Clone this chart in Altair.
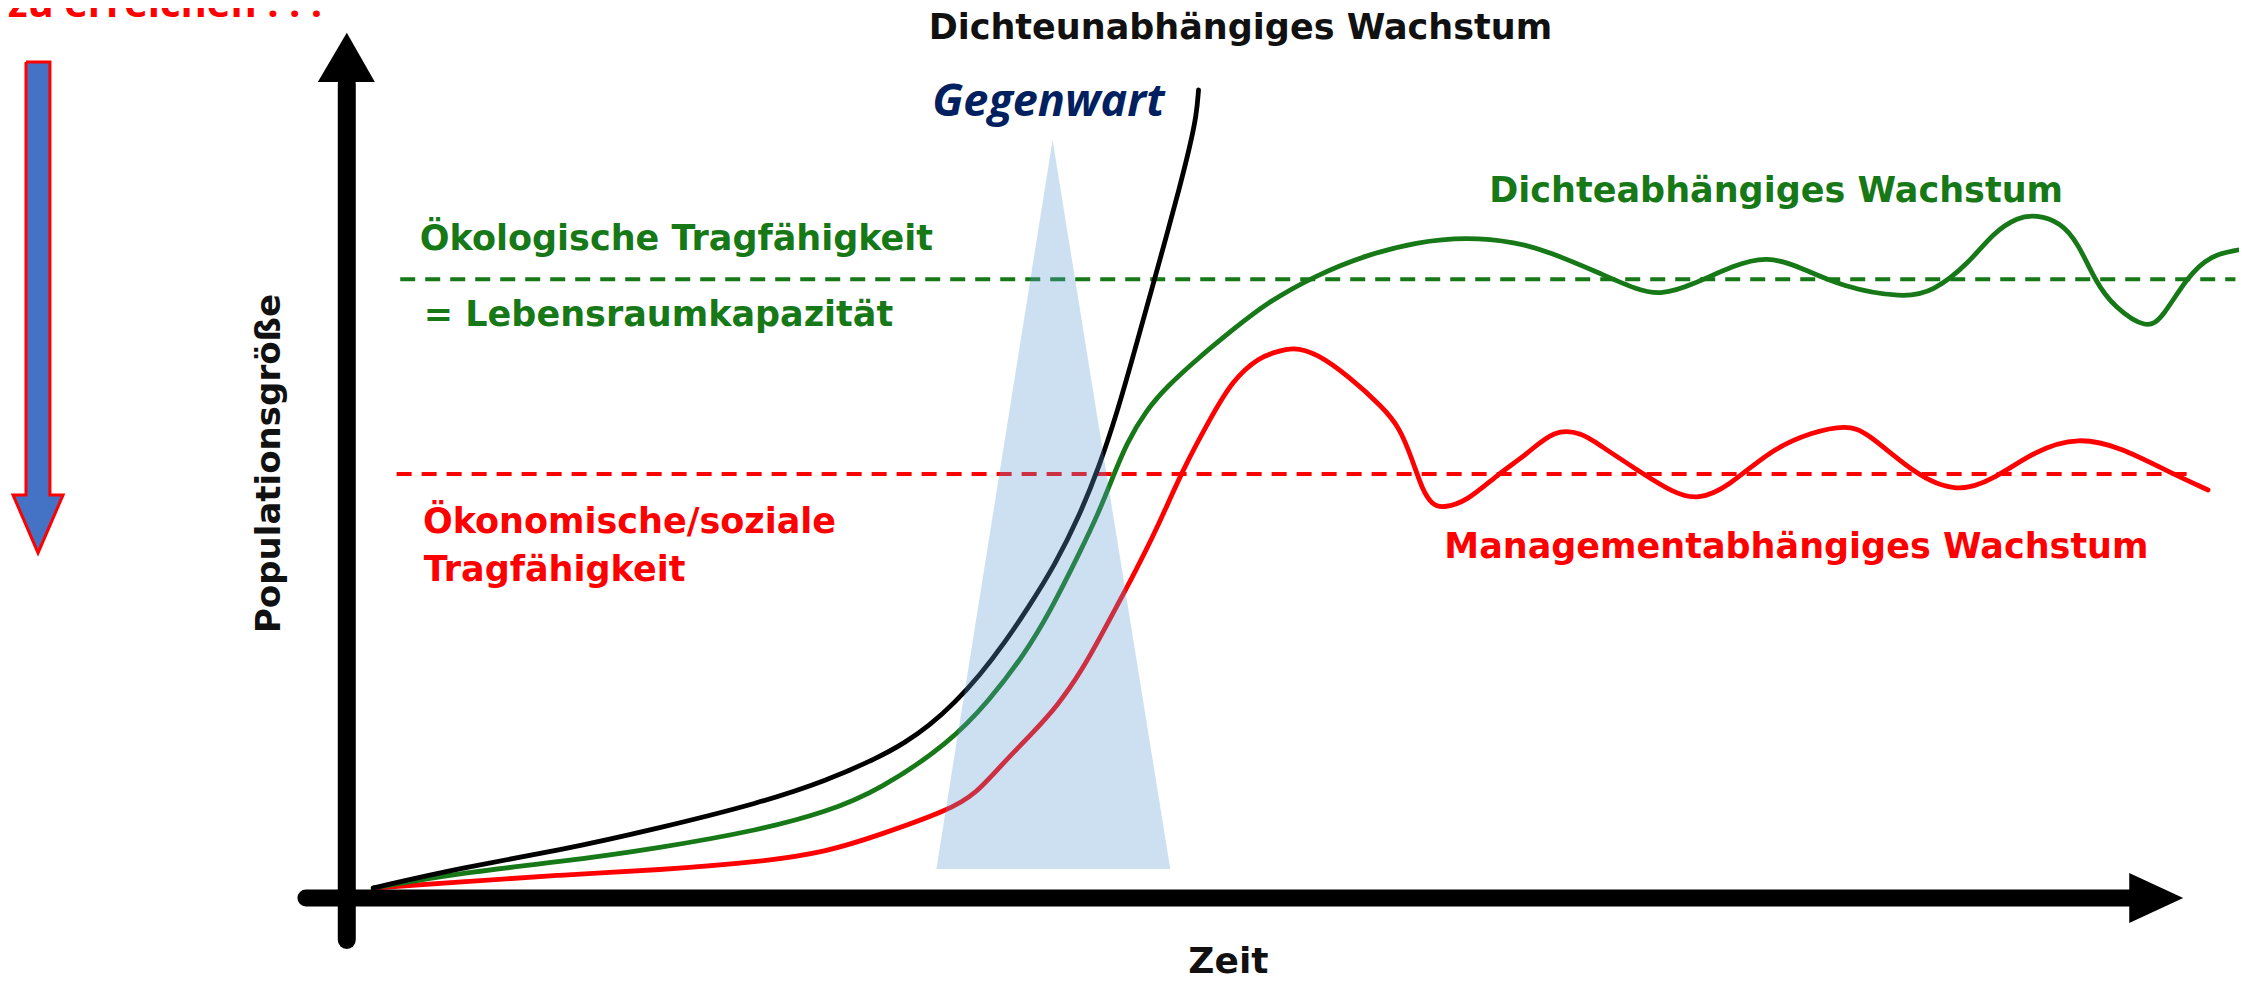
import altair as alt
import pandas as pd

# ---------------- data (time t, population p) ----------------
black_t = [0.3, 5.11, 10.67, 16.22, 21.78, 25.5, 28.44, 29.83, 31.22, 32.61, 34.0, 35.39,
           36.78, 38.17, 39.56, 40.67, 41.61, 42.5, 43.61, 44.39, 45.11, 45.67, 46.06, 46.17]
black_p = [0.0, 2.5, 4.7, 7.5, 10.63, 13.4, 16.38, 18.13, 20.31, 23.13, 26.56, 30.63,
           35.31, 40.31, 46.56, 52.81, 59.19, 66.19, 75.19, 81.5, 87.5, 92.5, 96.63, 99.75]

green_t = [0.3, 5.11, 10.67, 16.22, 21.78, 25.5, 28.44, 32.33, 34.56, 36.39, 37.89, 39.72,
           40.56, 41.39, 42.17, 43.28, 44.39, 46.22, 48.06, 49.94, 52.72, 55.5, 58.28, 61.06,
           63.83, 65.67, 68.44, 70.56, 71.89, 73.61, 75.94, 77.78, 79.61, 81.94, 85.33, 87.0,
           89.0, 90.33, 91.72, 92.72, 94.06, 95.06, 96.06, 97.06, 98.89, 99.78, 101.11, 102.44,
           103.94]
green_p = [0.0, 1.88, 3.25, 5.0, 7.25, 9.5, 12.25, 18.13, 23.5, 28.88, 34.38, 42.63,
           46.63, 51.25, 55.63, 59.75, 62.63, 66.38, 69.75, 73.13, 76.63, 79.13, 80.75, 81.38,
           80.75, 79.5, 76.88, 74.75, 74.13, 75.38, 77.88, 79.0, 77.63, 75.13, 73.75, 74.5,
           78.13, 81.88, 83.88, 84.13, 83.25, 80.63, 75.63, 72.63, 69.75, 71.38, 76.38, 79.13,
           79.75]

red_t = [0.3, 5.11, 10.67, 16.22, 21.78, 25.5, 28.44, 32.33, 33.83, 35.11, 36.94, 38.28,
         39.72, 41.22, 42.5, 43.83, 45.28, 46.78, 48.06, 49.56, 50.5, 51.39, 52.72, 54.56,
         56.39, 57.33, 58.06, 58.61, 59.17, 59.72, 61.06, 62.89, 64.39, 65.94, 67.5, 68.44,
         70.56, 72.56, 73.94, 75.61, 77.94, 80.28, 82.17, 83.33, 86.0, 88.33, 90.33, 92.72,
         95.06, 97.39, 100.11, 102.28]
red_p = [0.0, 0.75, 1.63, 2.25, 3.25, 4.5, 6.63, 9.75, 11.88, 15.13, 19.38, 22.63,
         27.25, 33.5, 38.88, 44.75, 52.25, 58.5, 63.5, 66.38, 67.0, 67.63, 66.88, 63.88,
         60.13, 57.63, 53.5, 49.75, 47.88, 47.5, 48.25, 51.88, 54.13, 57.38, 56.88, 55.38,
         52.25, 49.38, 48.5, 50.13, 54.75, 57.0, 57.88, 57.0, 51.63, 49.38, 51.0, 54.75,
         56.38, 55.13, 52.0, 49.75]

# carrying capacities (dashed levels)
cap_names = ["ökologisch", "ökonomisch"]
cap_level = [76.1, 51.75]
cap_start = [1.8, 1.6]
cap_end = [103.8, 101.5]

# "Gegenwart" window (triangle)
now_p = [2.375, 93.5]
now_left = [31.6, 38.06]
now_right = [44.6, 38.06]

# axes
yaxis_t = -1.17
yaxis_from, yaxis_to = -6.5, 100.5
yhead_p = [100.75, 106.9]
yhead_l = [-2.78, -1.17]
yhead_r = [0.39, -1.17]

xaxis_p = -1.25
xaxis_from, xaxis_to = -3.44, 98.0
xhead_t = [97.9, 100.9]
xhead_hi = [1.875, -1.25]
xhead_lo = [-4.375, -1.25]

# blue down arrow
arrow_shaft_l, arrow_shaft_r = -19.0, -17.67
arrow_top, arrow_base, arrow_tip = 103.25, 49.13, 41.88
arrow_head_l, arrow_head_r, arrow_mid = -19.72, -16.94, -18.33
outline_t = [arrow_shaft_l, arrow_shaft_l, arrow_head_l, arrow_mid, arrow_head_r,
             arrow_shaft_r, arrow_shaft_r, arrow_shaft_l]
outline_p = [arrow_top, arrow_base, arrow_base, arrow_tip, arrow_base,
             arrow_base, arrow_top, arrow_top]

GREEN = "#167816"
RED = "#FF0000"
BLUE = "#4472C4"

X = alt.Scale(domain=[-20, 104], nice=False, zero=False)
Y = alt.Scale(domain=[-11.75, 110], nice=False, zero=False)


def xe(f="t"):
    return alt.X(f + ":Q", scale=X, axis=None)


def ye(f="p"):
    return alt.Y(f + ":Q", scale=Y, axis=None)


def curve(ts, ps, color):
    df = pd.DataFrame({"t": ts, "p": ps})
    return alt.Chart(df).mark_line(color=color, strokeWidth=4.8, interpolate="basis",
                                   strokeCap="round").encode(x=xe(), y=ye())


# axes
yshaft = alt.Chart(pd.DataFrame({"t": [yaxis_t], "p": [yaxis_from], "p2": [yaxis_to]})).mark_rule(
    color="black", strokeWidth=18, strokeCap="round").encode(x=xe(), y=ye(), y2="p2:Q")
xshaft = alt.Chart(pd.DataFrame({"t": [xaxis_from], "t2": [xaxis_to], "p": [xaxis_p]})).mark_rule(
    color="black", strokeWidth=17, strokeCap="round").encode(x=xe(), x2="t2:Q", y=ye())
yhead = alt.Chart(pd.DataFrame({"p": yhead_p, "t": yhead_l, "t2": yhead_r})).mark_area(
    color="black", orient="horizontal").encode(y=ye(), x=xe(), x2="t2:Q")
xhead = alt.Chart(pd.DataFrame({"t": xhead_t, "p": xhead_hi, "p2": xhead_lo})).mark_area(
    color="black", orient="vertical").encode(x=xe(), y=ye(), y2="p2:Q")

# dashed capacity lines
caps = pd.DataFrame({"name": cap_names, "p": cap_level, "t": cap_start, "t2": cap_end})
caplines = alt.Chart(caps).mark_rule(strokeWidth=4, strokeDash=[15, 10]).encode(
    x=xe(), x2="t2:Q", y=ye(),
    color=alt.Color("name:N", scale=alt.Scale(domain=cap_names, range=[GREEN, RED]), legend=None))

# curves
c_red = curve(red_t, red_p, RED)
c_green = curve(green_t, green_p, GREEN)
c_black = curve(black_t, black_p, "black")

# triangle "Gegenwart"
tri = alt.Chart(pd.DataFrame({"p": now_p, "t": now_left, "t2": now_right})).mark_area(
    color="#5B9BD5", opacity=0.31, orient="horizontal").encode(y=ye(), x=xe(), x2="t2:Q")

# blue arrow: fill (shaft + head) and red outline
a_shaft = alt.Chart(pd.DataFrame({"t": [arrow_shaft_l], "t2": [arrow_shaft_r],
                                  "p": [arrow_top], "p2": [arrow_base]})).mark_rect(
    color=BLUE).encode(x=xe(), x2="t2:Q", y=ye(), y2="p2:Q")
a_head = alt.Chart(pd.DataFrame({"p": [arrow_base, arrow_tip], "t": [arrow_head_l, arrow_mid],
                                 "t2": [arrow_head_r, arrow_mid]})).mark_area(
    color=BLUE, orient="horizontal").encode(y=ye(), x=xe(), x2="t2:Q")
a_outline = alt.Chart(pd.DataFrame({"i": list(range(len(outline_t))), "t": outline_t,
                                    "p": outline_p})).mark_line(
    color=RED, strokeWidth=3, strokeJoin="miter").encode(x=xe(), y=ye(), order="i:Q")


def label(rows, color, size, font="DejaVu Sans", style="normal", align="left", angle=0):
    df = pd.DataFrame(rows, columns=["t", "p", "label"])
    return alt.Chart(df).mark_text(align=align, baseline="alphabetic", font=font, fontSize=size,
                                   fontWeight="bold", fontStyle=style, color=color, angle=angle).encode(
        x=xe(), y=ye(), text="label:N")


t_title = label([(31.17, 106.1, "Dichteunabhängiges Wachstum")], "#111111", 35)
t_green = label([(2.89, 79.7, "Ökologische Tragfähigkeit"),
                 (3.11, 70.2, "= Lebensraumkapazität"),
                 (62.33, 85.8, "Dichteabhängiges Wachstum")], GREEN, 35)
t_red = label([(3.06, 44.4, "Ökonomische/soziale"),
               (3.11, 38.4, "Tragfähigkeit"),
               (59.83, 41.25, "Managementabhängiges Wachstum")], RED, 35)
t_ylab = label([(-4.9, 53.06, "Populationsgröße")], "#111111", 34, align="center", angle=270)
t_xlab = label([(47.83, -10.6, "Zeit")], "#111111", 36, align="center")
t_now = label([(37.83, 96.5, "Gegenwart")], "#002060", 45, font="Open Sans", style="italic",
              align="center")
t_warn = label([(-20.0, 108.9, "zu erreichen ! ! !")], RED, 40, font="Open Sans")

chart = alt.layer(
    caplines, c_red, c_green, c_black, yshaft, xshaft, yhead, xhead,
    t_title, t_green, t_red, t_ylab, t_xlab,
    tri, t_now, a_shaft, a_head, a_outline, t_warn
).properties(
    width=2231, height=974, padding=0, autosize=alt.AutoSizeParams(type="none")
).configure_view(strokeWidth=0)

chart.save("out.html", embed_options={"renderer": "svg", "actions": False})
